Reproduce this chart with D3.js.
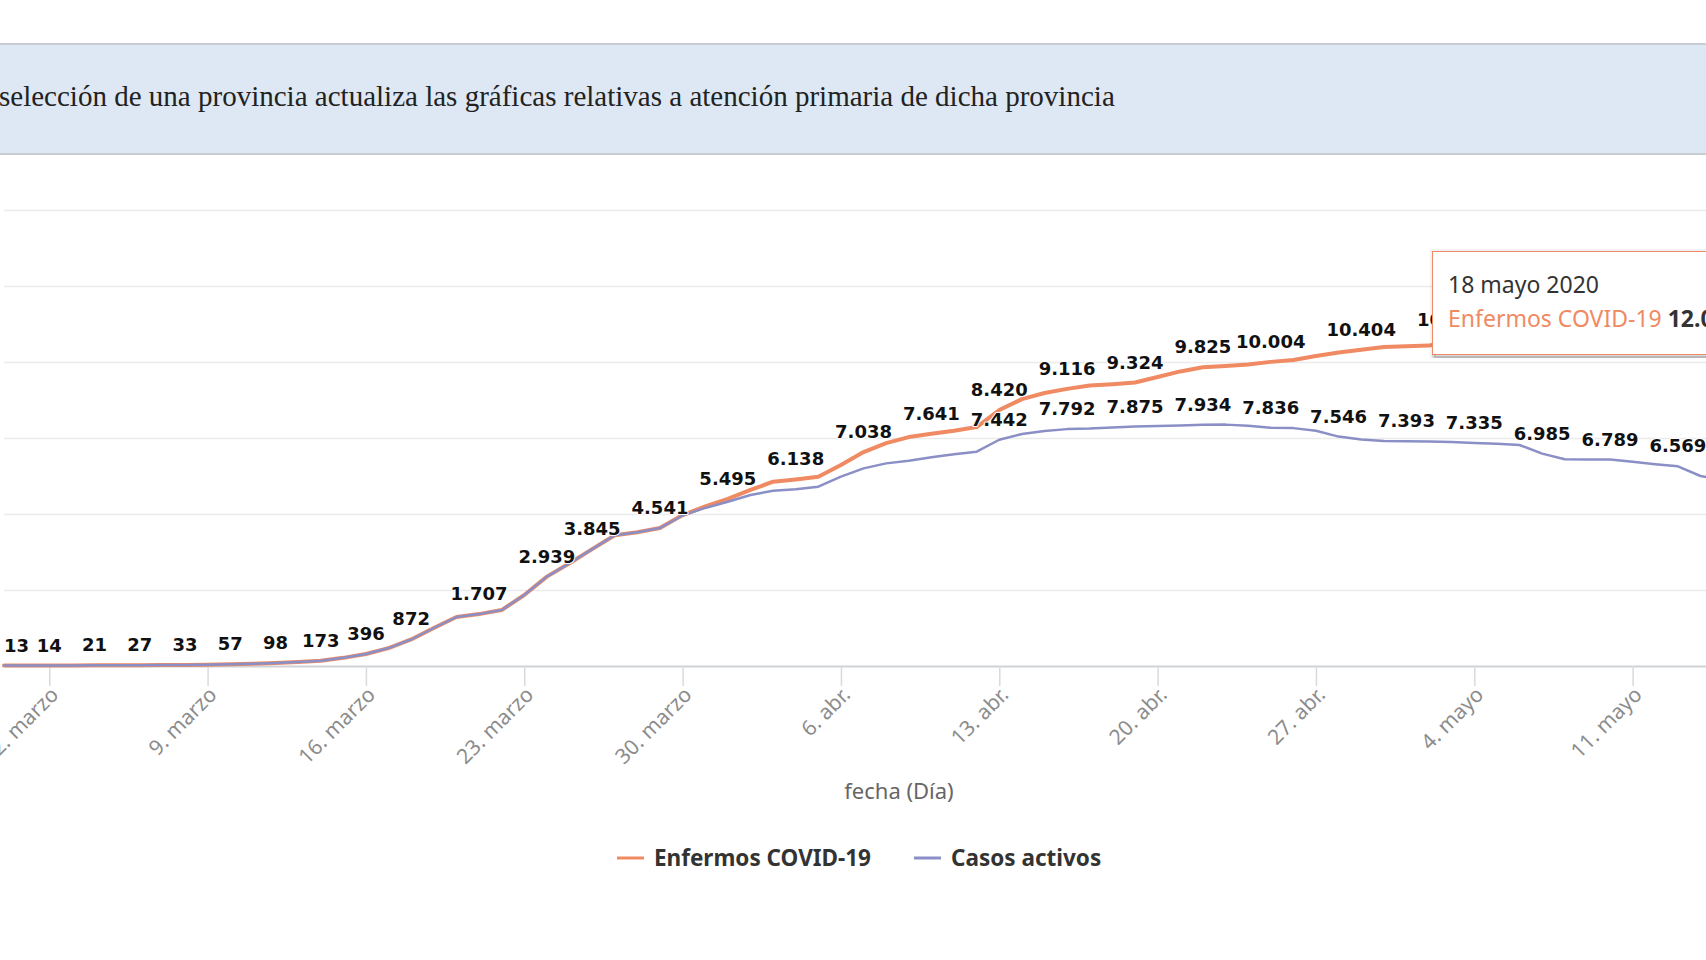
<!DOCTYPE html>
<html lang="es">
<head>
  <meta charset="UTF-8">
  <title>Enfermos COVID-19 y casos activos</title>
  <style>
    body { margin: 0; background: #fff; overflow: hidden; }
    svg { display: block; }
  </style>
</head>
<body>
  <svg id="svg" width="1706" height="960"></svg>

  <script src="https://d3js.org/d3.v7.min.js"></script>
  <script>
    const bannerText = 'selección de una provincia actualiza las gráficas relativas a atención primaria de dicha provincia'
    const axisTitle = 'fecha (Día)'
    const seriesNames = ['Enfermos COVID-19', 'Casos activos']
    const seriesColors = ['#ef8a62', '#8a8fc6']
    const monthShort = ['ene.', 'feb.', 'marzo', 'abr.', 'mayo', 'jun.', 'jul.', 'ago.', 'sep.', 'oct.', 'nov.', 'dic.']
    const monthLong = ['enero', 'febrero', 'marzo', 'abril', 'mayo', 'junio', 'julio', 'agosto', 'septiembre', 'octubre', 'noviembre', 'diciembre']
    const yTicks = [0, 2500, 5000, 7500, 10000, 12500, 15000]

    // one value per day, starting 29 feb 2020
    const firstDay = new Date(Date.UTC(2020, 1, 29))
    const enfermos = [
      13, 13, 14, 17, 21, 24, 27, 30, 33, 44,
      57, 76, 98, 131, 173, 268, 396, 590, 872, 1250,
      1610, 1707, 1840, 2335, 2939, 3380, 3845, 4300, 4400, 4541,
      4965, 5250, 5495, 5790, 6063, 6138, 6228, 6612, 7038, 7330,
      7530, 7641, 7740, 7860, 8420, 8780, 8980, 9116, 9230, 9270,
      9324, 9505, 9690, 9825, 9870, 9920, 10004, 10065, 10200, 10310,
      10404, 10490, 10520, 10540, 10720, 10850, 10990, 11100, 11230, 11340,
      11420, 11510, 11600, 11700, 11780, 11850, 11910, 11960, 12010, 12043
    ]
    const activos = [
      13, 13, 14, 17, 21, 24, 27, 30, 33, 44,
      57, 76, 98, 131, 173, 268, 396, 590, 872, 1250,
      1610, 1707, 1840, 2335, 2939, 3380, 3845, 4300, 4400, 4541,
      4950, 5200, 5405, 5625, 5767, 5812, 5900, 6230, 6500, 6665,
      6755, 6865, 6963, 7050, 7442, 7630, 7730, 7792, 7810, 7845,
      7875, 7895, 7910, 7934, 7940, 7905, 7836, 7825, 7740, 7546,
      7450, 7400, 7393, 7385, 7365, 7335, 7310, 7270, 6985, 6800,
      6795, 6789, 6720, 6640, 6569, 6250, 6120, 6060, 6010, 5980
    ]
    const hoverIndex = 79 // 18 mayo

    const dates = enfermos.map((d, i) => d3.utcDay.offset(firstDay, i))
    const series = [enfermos, activos]

    const plotLeft = 4
    const dayWidth = 22.62
    const plotRight = plotLeft + (dates.length - 1) * dayWidth
    const plotTop = 210
    const plotBottom = 666

    const num = d3.formatLocale({ decimal: ',', thousands: '.', grouping: [3], currency: ['', ' €'] }).format(',d')

    const xScale = d3.scaleUtc()
      .domain([dates[0], dates[dates.length - 1]])
      .range([plotLeft, plotRight])

    const yScale = d3.scaleLinear()
      .domain([0, 15000])
      .range([plotBottom, plotTop])

    const svg = d3.select('#svg')
    svg.append('rect').attr('width', 1706).attr('height', 960).attr('fill', '#fff')

    // banner
    svg.append('rect')
      .attr('x', -2).attr('y', 44).attr('width', 1710).attr('height', 110)
      .attr('fill', '#dde8f4').attr('stroke', '#c9ccd2').attr('stroke-width', 2)
    const banner = svg.append('text')
      .attr('x', -1).attr('y', 106)
      .attr('font-family', 'Liberation Serif, serif')
      .attr('font-size', 26)
      .attr('fill', '#222')
      .text(bannerText)
    const bw = banner.node().getComputedTextLength()
    banner.attr('font-size', 26 * 1116 / bw)

    // grid
    svg.append('g')
      .attr('transform', `translate(${plotLeft},0)`)
      .call(d3.axisRight(yScale).tickValues(yTicks.slice(1)).tickSize(plotRight - plotLeft).tickFormat(''))
      .call(g => g.select('.domain').remove())
      .call(g => g.selectAll('line').attr('stroke', '#ebebeb').attr('stroke-width', 1.5))

    // x axis
    const xAxis = d3.axisBottom(xScale)
      .ticks(d3.utcMonday.every(1))
      .tickSize(20)
      .tickSizeOuter(0)
      .tickFormat(d => `${d.getUTCDate()}. ${monthShort[d.getUTCMonth()]}`)

    svg.append('g')
      .attr('transform', `translate(0,${plotBottom})`)
      .call(xAxis)
      .call(g => g.select('.domain').attr('stroke', '#cfd2d6').attr('stroke-width', 2))
      .call(g => g.selectAll('.tick line').attr('stroke', '#d9dadc').attr('stroke-width', 1.5))
      .call(g => g.selectAll('.tick text')
        .attr('x', 10).attr('y', 30).attr('dy', null)
        .attr('text-anchor', 'end')
        .attr('transform', 'rotate(-45 10 30)')
        .attr('font-family', 'Noto Sans, sans-serif')
        .attr('font-size', 21)
        .attr('fill', '#8c8c8c'))

    svg.append('text')
      .attr('x', 899).attr('y', 799)
      .attr('text-anchor', 'middle')
      .attr('font-family', 'Noto Sans, sans-serif')
      .attr('font-size', 22)
      .attr('fill', '#666')
      .text(axisTitle)

    // lines
    const line = d3.line()
      .x((d, i) => xScale(dates[i]))
      .y(d => yScale(d))

    const widths = [4, 2.5]
    series.forEach((s, si) => {
      svg.append('path')
        .datum(s)
        .attr('d', line)
        .attr('fill', 'none')
        .attr('stroke', seriesColors[si])
        .attr('stroke-width', widths[si])
        .attr('stroke-linejoin', 'round')
        .attr('stroke-linecap', 'round')
    })

    // data labels, hiding the ones that overlap an earlier label
    const labelG = svg.append('g')
      .attr('font-family', 'DejaVu Sans, sans-serif')
      .attr('font-weight', 'bold')
      .attr('font-size', 18)
      .attr('fill', '#111')
      .attr('stroke', '#fff')
      .attr('stroke-width', 2)
      .attr('stroke-linejoin', 'round')
      .attr('paint-order', 'stroke')
    const labels = []
    series.forEach(s => {
      s.forEach((v, i) => {
        const px = xScale(dates[i])
        const py = yScale(v)
        const t = labelG.append('text')
          .attr('text-anchor', 'middle')
          .attr('x', px).attr('y', py - 14)
          .text(num(v))
        const w = t.node().getComputedTextLength()
        let left = px - w / 2
        if (left < plotLeft) {
          left = plotLeft
          t.attr('x', left + w / 2)
        }
        labels.push({ t, x: left, y: py - 34, w, h: 24, shown: true })
      })
    })
    const hit = (a, b) => !(b.x >= a.x + a.w || b.x + b.w <= a.x || b.y >= a.y + a.h || b.y + b.h <= a.y)
    for (let i = 0; i < labels.length; i++) {
      if (!labels[i].shown) continue
      for (let j = i + 1; j < labels.length; j++) {
        if (labels[j].shown && hit(labels[i], labels[j])) labels[j].shown = false
      }
    }
    labels.filter(l => !l.shown).forEach(l => l.t.remove())

    // legend
    const legend = svg.append('g')
      .attr('font-family', 'Noto Sans, sans-serif')
      .attr('font-weight', 'bold')
      .attr('font-size', 22.5)
      .attr('fill', '#333')
    const legendX = [617, 914]
    seriesNames.forEach((name, i) => {
      legend.append('line')
        .attr('x1', legendX[i]).attr('x2', legendX[i] + 27)
        .attr('y1', 858).attr('y2', 858)
        .attr('stroke', seriesColors[i]).attr('stroke-width', 3)
      legend.append('text')
        .attr('x', legendX[i] + 37).attr('y', 866)
        .text(name)
    })

    // tooltip
    const tip = svg.append('g').attr('transform', 'translate(1432,251)')
    ;[3, 2, 1].forEach(o => {
      tip.append('rect')
        .attr('x', o).attr('y', o).attr('width', 420).attr('height', 103)
        .attr('fill', 'none').attr('stroke', '#000')
        .attr('stroke-opacity', 0.05 * o).attr('stroke-width', 2 * (4 - o))
    })
    tip.append('rect')
      .attr('x', 0.5).attr('y', 0.5).attr('width', 420).attr('height', 103)
      .attr('fill', '#fff')
      .attr('stroke', seriesColors[0]).attr('stroke-width', 1)
    const hoverDate = dates[hoverIndex]
    tip.append('text')
      .attr('x', 16).attr('y', 42)
      .attr('font-family', 'Noto Sans, sans-serif')
      .attr('font-size', 23)
      .attr('fill', '#333')
      .text(`${hoverDate.getUTCDate()} ${monthLong[hoverDate.getUTCMonth()]} ${hoverDate.getUTCFullYear()}`)
    const tipLine = tip.append('text')
      .attr('x', 16).attr('y', 76)
      .attr('font-family', 'Noto Sans, sans-serif')
      .attr('font-size', 23)
    tipLine.append('tspan').attr('fill', seriesColors[0]).text(seriesNames[0] + ' ')
    tipLine.append('tspan').attr('fill', '#333').attr('font-weight', 'bold').text(num(enfermos[hoverIndex]))
  </script>
</body>
</html>
